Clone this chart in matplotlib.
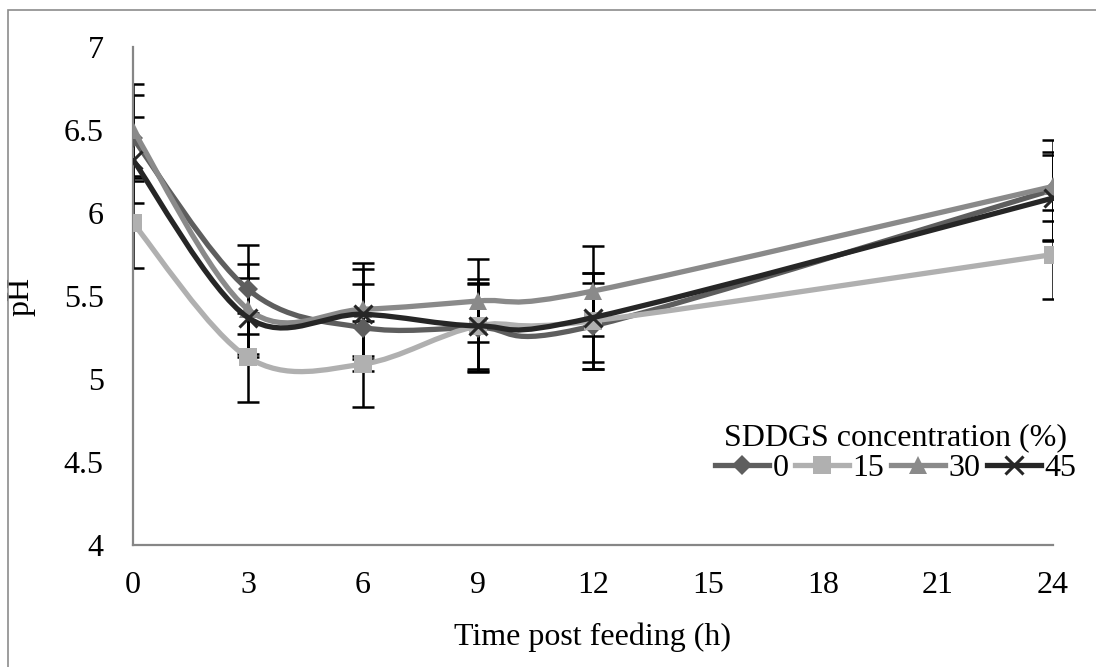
import numpy as np
import matplotlib.pyplot as plt
from matplotlib.path import Path
from matplotlib.patches import PathPatch, Rectangle
from matplotlib.lines import Line2D

plt.rcParams['font.family'] = ['Liberation Serif', 'DejaVu Serif']

# time post feeding (h)
hours = [0, 3, 6, 9, 12, 24]
conc_labels = ['0', '15', '30', '45']

ph_0 = [6.45, 5.54, 5.31, 5.31, 5.32, 6.14]
ph_15 = [5.94, 5.13, 5.09, 5.32, 5.35, 5.75]
ph_30 = [6.50, 5.42, 5.42, 5.47, 5.53, 6.16]
ph_45 = [6.32, 5.37, 5.39, 5.32, 5.37, 6.09]

sd_0 = [0.26, 0.27, 0.26, 0.26, 0.26, 0.30]
sd_15 = [0.27, 0.27, 0.26, 0.28, 0.29, 0.27]
sd_30 = [0.28, 0.27, 0.28, 0.25, 0.27, 0.21]
sd_45 = [0.26, 0.24, 0.27, 0.26, 0.27, 0.26]

series = [ph_0, ph_15, ph_30, ph_45]
errors = [sd_0, sd_15, sd_30, sd_45]
colors = ['#5e5e5e', '#b0b0b0', '#8a8a8a', '#262626']
markers = ['D', 's', '^', 'x']
msizes = [10, 13, 13, 13]
FS = 23


def smooth_path(x, y):
    # excel-like smoothed line: cubic bezier through every point
    pts = np.column_stack([x, y]).astype(float)
    n = len(pts)
    verts = [pts[0]]
    codes = [Path.MOVETO]
    for i in range(n - 1):
        p0 = pts[i - 1] if i > 0 else pts[i]
        p1 = pts[i]
        p2 = pts[i + 1]
        p3 = pts[i + 2] if i + 2 < n else pts[i + 1]
        c1 = p1 + (p2 - p0) / 6.0
        c2 = p2 - (p3 - p1) / 6.0
        verts += [c1, c2, p2]
        codes += [Path.CURVE4] * 3
    return Path(verts, codes)


fig = plt.figure(figsize=(10.96, 6.67), dpi=100)
fig.patches.append(Rectangle((8 / 1096, -0.05), 1.2, 1 - 10 / 667 + 0.05,
                             transform=fig.transFigure, fill=False,
                             edgecolor='#8c8c8c', lw=1.2))
ax = fig.add_axes([133 / 1096, 1 - 545 / 667, 920 / 1096, 498 / 667])

for ys, es in zip(series, errors):
    ax.errorbar(hours, ys, yerr=es, fmt='none', ecolor='black',
                elinewidth=1.8, capsize=8, capthick=1.8, zorder=2)

handles = []
for ys, c, m, ms in zip(series, colors, markers, msizes):
    ax.add_patch(PathPatch(smooth_path(hours, ys), fill=False,
                           edgecolor=c, lw=3.8, zorder=3))
    mew = 2.2 if m == 'x' else 0
    ax.plot(hours, ys, linestyle='none', marker=m, ms=ms, color=c,
            mew=mew, zorder=3)
    handles.append(Line2D([], [], color=c, lw=3.8, marker=m, ms=ms, mew=mew))

ax.set_xlim(0, 24)
ax.set_ylim(4, 7)
ax.set_xticks(np.arange(0, 25, 3))
ax.set_yticks(np.arange(4, 7.01, 0.5))
ax.set_yticklabels(['4', '4.5', '5', '5.5', '6', '6.5', '7'])
ax.tick_params(length=0, labelsize=FS)
ax.tick_params(axis='y', pad=21)
ax.tick_params(axis='x', pad=19)
for s in ['top', 'right']:
    ax.spines[s].set_visible(False)
for s in ['left', 'bottom']:
    ax.spines[s].set_color('#868686')
    ax.spines[s].set_linewidth(1.6)

ax.set_xlabel('Time post feeding (h)', fontsize=FS, labelpad=16)
ax.set_ylabel('pH', fontsize=FS)
ax.yaxis.set_label_coords(-0.106, 0.5)

leg = ax.legend(handles, conc_labels, ncol=4, frameon=False, fontsize=FS,
                title='SDDGS concentration (%)', title_fontsize=FS,
                loc='lower right', bbox_to_anchor=(1092 / 1096, 1 - 499 / 667),
                bbox_transform=fig.transFigure, handlelength=1.7,
                handletextpad=0.1, columnspacing=0.2, borderpad=0,
                labelspacing=0.05)

fig.savefig('out.png', dpi=100)
